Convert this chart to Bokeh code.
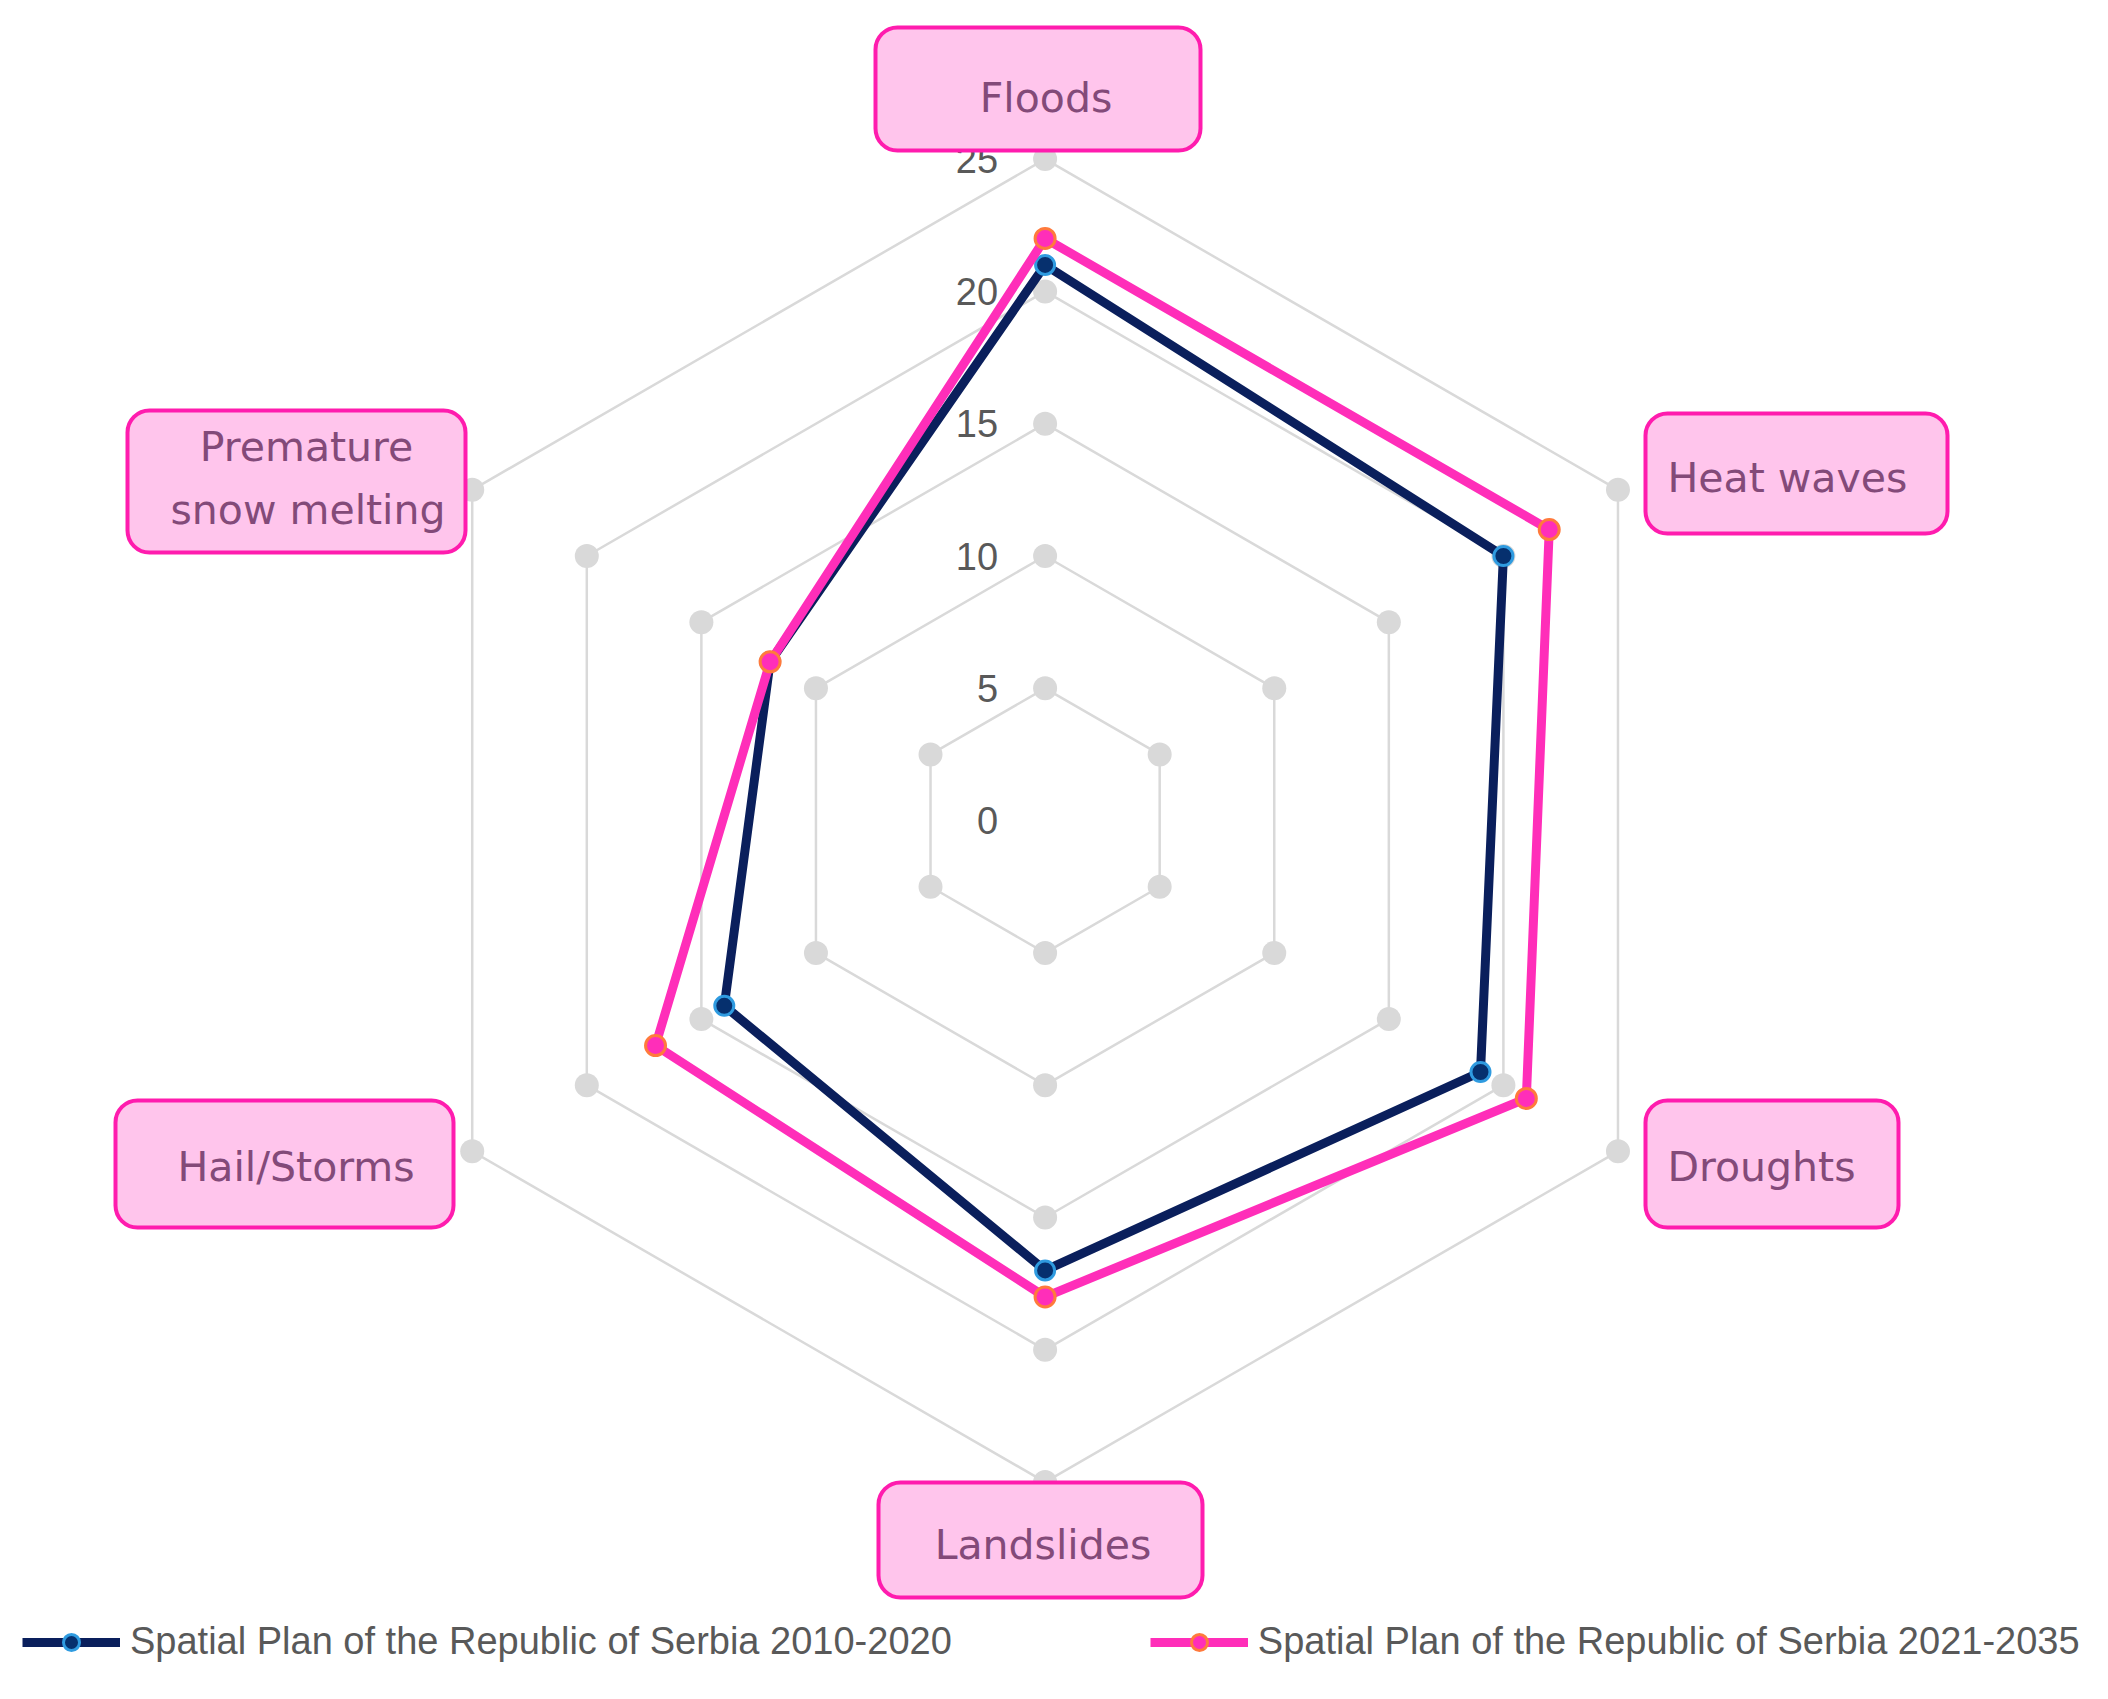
import numpy as np
from bokeh.plotting import figure
from bokeh.models import Range1d, ColumnDataSource, BoxAnnotation, Legend, LegendItem
from bokeh.core.properties import value
from bokeh.embed import file_html
from bokeh.resources import INLINE

# ---------------- data ----------------
categories = ["Floods", "Heat waves", "Droughts", "Landslides", "Hail/Storms",
              "Premature snow melting"]
plan_2010_2020 = [21, 20, 19, 17, 14, 12]
plan_2021_2035 = [22, 22, 21, 18, 17, 12]
ring_values = [5, 10, 15, 20, 25]
tick_values = [0, 5, 10, 15, 20, 25]
tick_labels = ["0", "5", "10", "15", "20", "25"]
series_names = ["Spatial Plan of the Republic of Serbia 2010-2020",
                "Spatial Plan of the Republic of Serbia 2021-2035"]

# ---------------- layout ----------------
W, H = 2092, 1683
CX, CY = 1044.6, 820.1       # chart centre in figure pixels (from top-left)
S = 26.46                    # pixels per value unit
TXT_DY = 16                  # baseline correction for label text

def px(X, Y):
    """reference-page pixel -> data coordinates"""
    return (X - CX) / S, (CY - Y) / S

p = figure(width=W, height=H, output_backend="svg", toolbar_location=None,
           x_range=Range1d(-CX / S, (W - CX) / S),
           y_range=Range1d(-(H - CY) / S, CY / S),
           min_border=0, outline_line_color=None,
           x_axis_location=None, y_axis_location=None)
p.grid.visible = False
p.background_fill_color = "white"
p.border_fill_color = "white"

n = len(categories)
theta = np.deg2rad(90 - 360.0 / n * np.arange(n))

def polar(vals):
    v = np.asarray(vals, dtype=float)
    return v * np.cos(theta), v * np.sin(theta)

# ---------------- grid ----------------
xs_rings, ys_rings, dot_x, dot_y = [], [], [], []
for r in ring_values:
    x, y = polar([r] * n)
    xs_rings.append(list(x) + [x[0]])
    ys_rings.append(list(y) + [y[0]])
    dot_x += list(x)
    dot_y += list(y)
p.multi_line(xs_rings, ys_rings, line_color="#d9d9d9", line_width=2.5)
p.scatter(dot_x, dot_y, size=24, fill_color="#d9d9d9", line_color=None)

# tick labels
p.text(x=[-47 / S] * len(tick_values), y=tick_values, text=tick_labels,
       text_align="right", text_baseline="middle",
       text_font=value("Liberation Sans"), text_font_size="38px",
       text_color="#595959")

# ---------------- series ----------------
navy, pink = "#0a1f5c", "#ff2eb9"
x1, y1 = polar(plan_2010_2020)
x2, y2 = polar(plan_2021_2035)
l1 = p.line(list(x1) + [x1[0]], list(y1) + [y1[0]], line_color=navy, line_width=9,
            line_join="round")
s1 = p.scatter(x1, y1, size=19, fill_color="#06306e", line_color="#2f9be0",
               line_width=3)
l2 = p.line(list(x2) + [x2[0]], list(y2) + [y2[0]], line_color=pink, line_width=9,
            line_join="round")
s2 = p.scatter(x2, y2, size=20, fill_color=pink, line_color="#ff7a3c",
               line_width=3)

# ---------------- category boxes ----------------
boxes = [(875, 1200, 27, 150), (1645, 1947, 413, 533), (1645, 1898, 1100, 1227),
         (878, 1202, 1482, 1597), (115, 453, 1100, 1227), (127, 465, 410, 552)]
for (L, R, T, B) in boxes:
    l, t = px(L, T)
    r, b = px(R, B)
    p.add_layout(BoxAnnotation(left=l, right=r, top=t, bottom=b,
                               fill_color="#ffc5ec", fill_alpha=1.0,
                               line_color="#ff1cae", line_alpha=1.0, line_width=4,
                               border_radius=22))

# label anchors (page px) : x, baseline y, align
anchors = [(1045.5, 113, "center"), (1667, 493, "left"), (1667, 1182, "left"),
           (1042.5, 1560, "center"), (177, 1182, "left")]
lab_x, lab_y, lab_t, lab_a = [], [], [], []
for cat, (ax, ay, al) in zip(categories[:5], anchors):
    dx, dy = px(ax, ay - TXT_DY)
    lab_x.append(dx); lab_y.append(dy); lab_t.append(cat); lab_a.append(al)
first, second = categories[5].split(" ", 1)
for txt, (ax, ay) in zip([first, second], [(306, 462), (307.5, 525)]):
    dx, dy = px(ax, ay - TXT_DY)
    lab_x.append(dx); lab_y.append(dy); lab_t.append(txt); lab_a.append("center")

src = ColumnDataSource(dict(x=lab_x, y=lab_y, text=lab_t, align=lab_a))
tr = p.text(x="x", y="y", text="text", source=src, text_align="align",
            text_baseline="alphabetic", text_font=value("DejaVu Sans"),
            text_font_size="41px", text_color="#834a79")
tr.level = "overlay"

# ---------------- legend ----------------
legend = Legend(items=[LegendItem(label=series_names[0], renderers=[l1, s1]),
                       LegendItem(label=series_names[1], renderers=[l2, s2])],
                orientation="horizontal", location=(22, 20),
                glyph_width=98, glyph_height=40, label_height=40,
                label_standoff=10, spacing=198, padding=0, margin=0,
                border_line_color=None, background_fill_alpha=0,
                label_text_font="Liberation Sans", label_text_font_size="38px",
                label_text_color="#595959")
p.add_layout(legend)

open("out.html", "w").write(file_html(p, INLINE))
